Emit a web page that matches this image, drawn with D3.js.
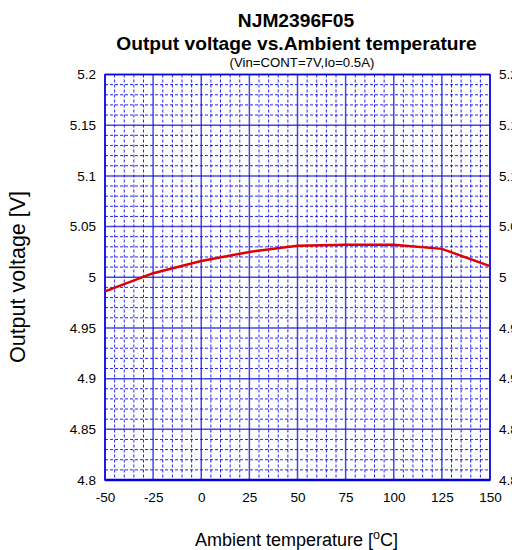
<!DOCTYPE html>
<html><head><meta charset="utf-8">
<script src="https://cdn.jsdelivr.net/npm/d3@7"></script>
<style>body{margin:0;background:#fff;overflow:hidden}svg{display:block}</style>
</head><body>
<script>
const temps = [-50, -25, 0, 25, 50, 75, 100, 125, 150];
const vout = [4.986, 5.004, 5.016, 5.025, 5.031, 5.032, 5.032, 5.028, 5.011];
const xTicks = [-50, -25, 0, 25, 50, 75, 100, 125, 150];
const yTicks = [4.8, 4.85, 4.9, 4.95, 5, 5.05, 5.1, 5.15, 5.2];
const title1 = "NJM2396F05";
const title2 = "Output voltage vs.Ambient temperature";
const subtitle = "(Vin=CONT=7V,Io=0.5A)";

const W = 512, H = 550;
const L = 105, R = 490, T = 74.5, B = 480;
const svg = d3.select("body").append("svg").attr("width", W).attr("height", H)
  .style("font-family", "'Liberation Sans', Arial, sans-serif");

const x = d3.scaleLinear().domain([-50, 150]).range([L, R]);
const y = d3.scaleLinear().domain([4.8, 5.2]).range([B, T]);

const g = svg.append("g");
// minor grid
const xMinor = d3.range(-50, 150.001, 5).filter(v => v % 25 !== 0);
const yMinor = d3.range(4800, 5200.001, 10).map(v => v / 1000).filter(v => Math.round(v * 1000) % 50 !== 0);
g.selectAll(".xm").data(xMinor).join("line")
  .attr("x1", d => x(d)).attr("x2", d => x(d)).attr("y1", T).attr("y2", B)
  .attr("stroke", "#0000ee").attr("stroke-width", 1).attr("stroke-dasharray", "3,2").attr("opacity", 0.85);
g.selectAll(".ym").data(yMinor).join("line")
  .attr("x1", L).attr("x2", R).attr("y1", d => y(d)).attr("y2", d => y(d))
  .attr("stroke", "#0000ee").attr("stroke-width", 1).attr("stroke-dasharray", "3,2").attr("opacity", 0.85);
// major grid
g.selectAll(".xM").data(xTicks).join("line")
  .attr("x1", d => x(d)).attr("x2", d => x(d)).attr("y1", T).attr("y2", B)
  .attr("stroke", "#1a1ad8").attr("stroke-width", 1.5).attr("opacity", 0.8);
g.selectAll(".yM").data(yTicks).join("line")
  .attr("x1", L).attr("x2", R).attr("y1", d => y(d)).attr("y2", d => y(d))
  .attr("stroke", "#1a1ad8").attr("stroke-width", 1.5).attr("opacity", 0.8);
// frame
svg.append("rect").attr("x", L).attr("y", T).attr("width", R - L).attr("height", B - T)
  .attr("fill", "none").attr("stroke", "#0000dd").attr("stroke-width", 1.5);
svg.append("line").attr("x1", L).attr("x2", R).attr("y1", B).attr("y2", B)
  .attr("stroke", "#0000dd").attr("stroke-width", 2.5);

// axes labels via d3 axes (no lines)
const fmt = d => String(+d.toFixed(2));
const ax = svg.append("g").attr("transform", `translate(0,${B})`)
  .call(d3.axisBottom(x).tickValues(xTicks).tickSize(0).tickPadding(12).tickFormat(d => d));
const ayl = svg.append("g").attr("transform", `translate(${L},0)`)
  .call(d3.axisLeft(y).tickValues(yTicks).tickSize(0).tickPadding(9).tickFormat(fmt));
const ayr = svg.append("g").attr("transform", `translate(${R},0)`)
  .call(d3.axisRight(y).tickValues(yTicks).tickSize(0).tickPadding(9).tickFormat(fmt));
[ax, ayl, ayr].forEach(a => {
  a.select(".domain").remove();
  a.selectAll("text").attr("font-size", 13.5).attr("fill", "#000")
    .attr("font-family", "'Liberation Sans', Arial, sans-serif");
});

// data line
svg.append("path").datum(temps.map((t, i) => [t, vout[i]]))
  .attr("d", d3.line().x(d => x(d[0])).y(d => y(d[1])))
  .attr("fill", "none").attr("stroke", "#e00000").attr("stroke-width", 2.5);

// titles
svg.append("text").attr("x", 296).attr("y", 27).attr("text-anchor", "middle")
  .attr("font-size", 19.2).attr("font-weight", "bold").text(title1);
svg.append("text").attr("x", 296.5).attr("y", 50).attr("text-anchor", "middle")
  .attr("font-size", 19.2).attr("font-weight", "bold").text(title2);
svg.append("text").attr("x", 302).attr("y", 66.5).attr("text-anchor", "middle")
  .attr("font-size", 13.2).text(subtitle);

// axis titles
svg.append("text").attr("transform", "translate(25,277) rotate(-90)").attr("text-anchor", "middle")
  .attr("font-size", 21.5).text("Output voltage [V]");
const xt = svg.append("text").attr("x", 296.5).attr("y", 546).attr("text-anchor", "middle").attr("font-size", 18);
xt.append("tspan").text("Ambient temperature [");
xt.append("tspan").attr("dy", -7).attr("font-size", 12.5).text("o");
xt.append("tspan").attr("dy", 7).text("C]");
</script>
</body></html>
